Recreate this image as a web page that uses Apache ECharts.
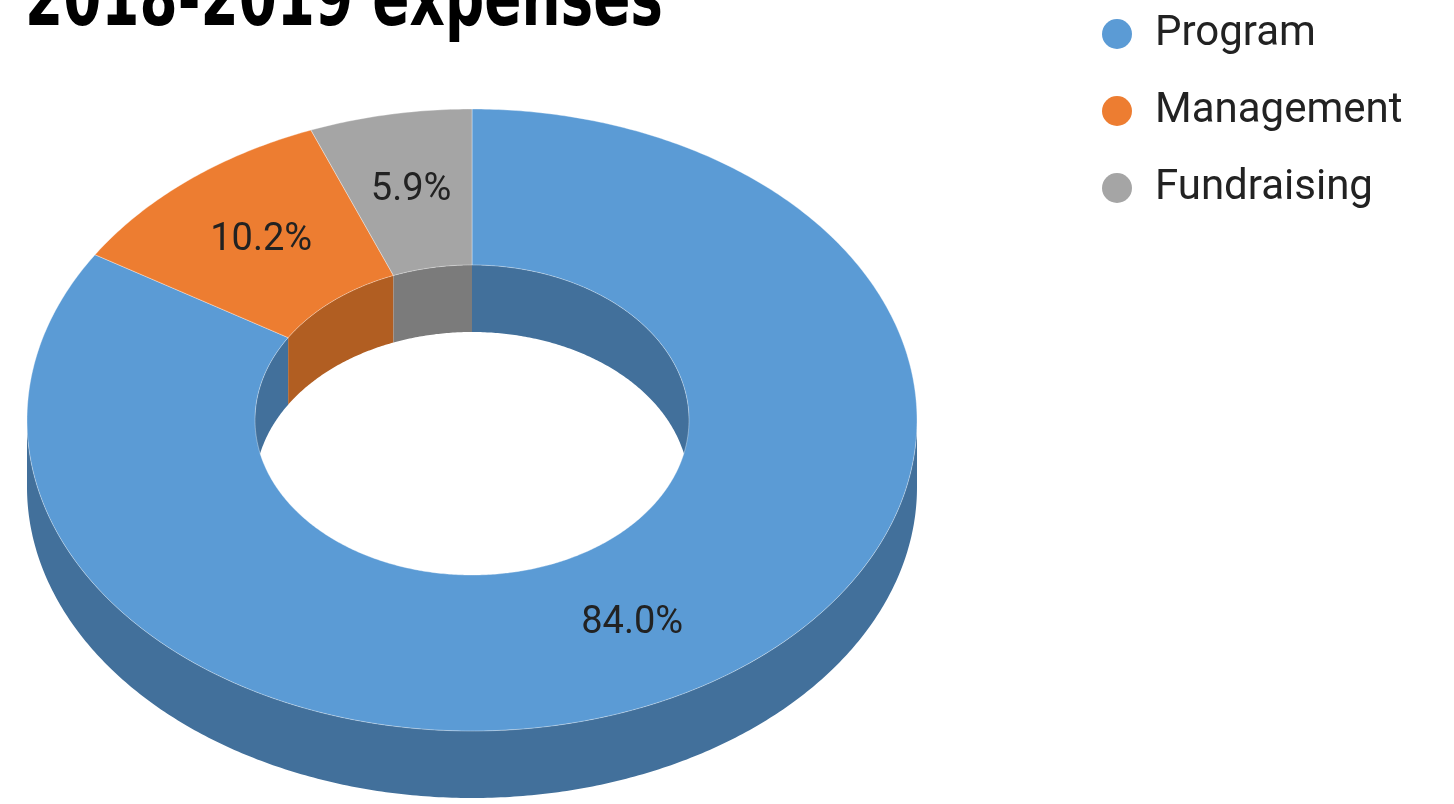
<!DOCTYPE html>
<html>
<head>
<meta charset="utf-8">
<script src="https://cdn.jsdelivr.net/npm/echarts@6/dist/echarts.min.js"></script>
<style>
  body { margin: 0; background: #fff; }
  #chart { width: 1454px; height: 804px; }
</style>
</head>
<body>
<div id="chart"></div>
<script>
const titleText = '2018-2019 expenses';
const categories = ['Program', 'Management', 'Fundraising'];
const values = [84.0, 10.2, 5.9];
const topColors = ['#5b9bd5', '#ed7d31', '#a5a5a5'];
const sideColors = ['#42709b', '#b15e22', '#7b7b7b'];

// tilted ring geometry (ellipses seen from above, plus thickness)
const ring = { cx: 472, cy: 420, rx: 445, ry: 311, irx: 217, iry: 155, depth: 67 };
const total = values.reduce((a, b) => a + b, 0);
const PI = Math.PI;

function pt(t, rx, ry, dy) {
  return [ring.cx + rx * Math.sin(t), ring.cy - ry * Math.cos(t) + dy];
}
function arc(t0, t1, rx, ry, dy) {
  const n = Math.max(2, Math.ceil(Math.abs(t1 - t0) / 0.01));
  const pts = [];
  for (let k = 0; k <= n; k++) pts.push(pt(t0 + (t1 - t0) * k / n, rx, ry, dy));
  return pts;
}
// vertical wall strip between angle t0 and t1
function band(t0, t1, rx, ry) {
  return arc(t0, t1, rx, ry, 0).concat(arc(t1, t0, rx, ry, ring.depth));
}
function clip(a0, a1, b0, b1) {
  const s = Math.max(a0, b0), e = Math.min(a1, b1);
  return s < e ? [s, e] : null;
}

function makeRender(i) {
  return function (params, api) {
    const start = values.slice(0, i).reduce((a, b) => a + b, 0);
    const a0 = start / total * 2 * PI;
    const a1 = (start + api.value(0)) / total * 2 * PI;
    const children = [];
    // outer wall only shows on the front half
    const o = clip(a0, a1, PI / 2, 3 * PI / 2);
    if (o) {
      children.push({ type: 'polygon', z2: 1, shape: { points: band(o[0], o[1], ring.rx, ring.ry) },
        style: { fill: sideColors[i] } });
    }
    // inner wall only shows on the back half
    [[0, PI / 2], [3 * PI / 2, 2 * PI]].forEach(function (r) {
      const c = clip(a0, a1, r[0], r[1]);
      if (c) {
        children.push({ type: 'polygon', z2: 1, shape: { points: band(c[0], c[1], ring.irx, ring.iry) },
          style: { fill: sideColors[i] } });
      }
    });
    // top face
    children.push({ type: 'polygon', z2: 10,
      shape: { points: arc(a0, a1, ring.rx, ring.ry, 0).concat(arc(a1, a0, ring.irx, ring.iry, 0)) },
      style: { fill: api.visual('color'), stroke: 'rgba(255,255,255,0.35)', lineWidth: 1 } });
    // percentage label in the middle of the slice
    const m = (a0 + a1) / 2;
    const lp = pt(m, (ring.rx + ring.irx) / 2, (ring.ry + ring.iry) / 2, 0);
    children.push({ type: 'text', z2: 20, x: lp[0], y: lp[1],
      style: { text: api.value(0).toFixed(1) + '%', fill: '#222', font: '38px Roboto',
        align: 'center', verticalAlign: 'middle' } });
    return { type: 'group', children: children };
  };
}

// heavy condensed headline: squeeze a bold face horizontally
const titleFont = 'bold 80px "DejaVu Sans"';
const measure = document.createElement('canvas').getContext('2d');
measure.font = titleFont;
const titleScale = 638 / measure.measureText(titleText).width;

const chart = echarts.init(document.getElementById('chart'));
chart.setOption({
  animation: false,
  backgroundColor: '#fff',
  color: topColors,
  graphic: [{
    type: 'text',
    x: 25,
    y: 4,
    scaleX: titleScale,
    style: { text: titleText, font: titleFont, fill: '#000', align: 'left', verticalAlign: 'middle' }
  }],
  legend: {
    orient: 'vertical',
    left: 1097,
    top: 8,
    icon: 'circle',
    itemWidth: 30,
    itemHeight: 30,
    itemGap: 35,
    textStyle: { fontFamily: 'Roboto', fontSize: 42, color: '#222', padding: [0, 0, 0, 18] },
    data: categories
  },
  series: categories.map(function (name, i) {
    return {
      type: 'custom',
      name: name,
      coordinateSystem: 'none',
      silent: true,
      data: [values[i]],
      renderItem: makeRender(i)
    };
  })
});
</script>
</body>
</html>
